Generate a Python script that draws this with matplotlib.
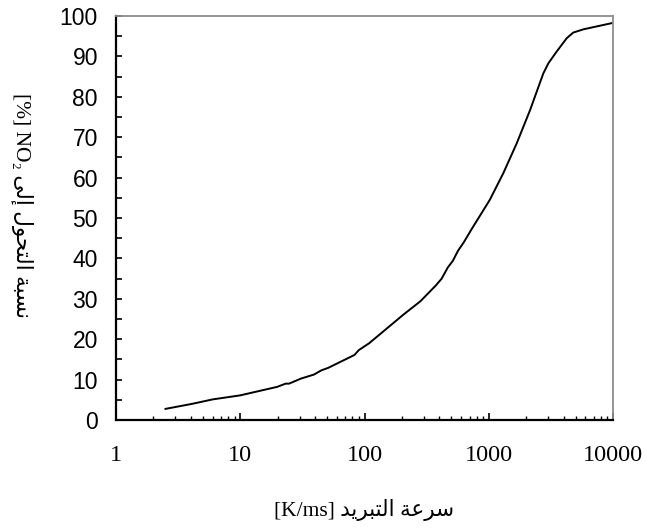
import matplotlib
matplotlib.use("Agg")
import matplotlib.pyplot as plt
from matplotlib.ticker import LogLocator, NullFormatter, MultipleLocator, FixedLocator, FixedFormatter

# ---- data ----
cooling_rate = [2.5, 4.1, 6.0, 10, 19.8, 23.2, 24.7, 30.8, 39.2, 45, 51, 83, 90, 109,
                206, 282, 375, 418, 468, 514, 566, 630, 720, 1020, 1310, 1680, 2150,
                2750, 3020, 3520, 4240, 4790, 5770, 10000]
conversion = [2.75, 4.0, 5.1, 6.1, 8.2, 9.0, 9.0, 10.25, 11.25, 12.3, 12.9, 16.1, 17.3, 19.0,
              26.1, 29.4, 33.3, 35.0, 37.75, 39.4, 41.9, 44.0, 47.0, 54.5, 61.1, 68.5, 76.7,
              85.8, 88.3, 91.2, 94.5, 95.9, 96.7, 98.3]
x_ticks = [1, 10, 100, 1000, 10000]
x_tick_labels = ["1", "10", "100", "1000", "10000"]
y_ticks = list(range(0, 101, 10))

xlabel_ar = "سرعة التبريد"
xlabel_latin = "[K/ms]"
ylabel_ar = "نسبة التحول إلى"
ylabel_latin = "[%] NO₂"

# ---- minimal Arabic shaping (presentation forms, visual order) ----
FORMS = {  # isolated, final, initial, medial
    'ا': ('\uFE8D', '\uFE8E', None, None),
    'إ': ('\uFE87', '\uFE88', None, None),
    'ب': ('\uFE8F', '\uFE90', '\uFE91', '\uFE92'),
    'ة': ('\uFE93', '\uFE94', None, None),
    'ت': ('\uFE95', '\uFE96', '\uFE97', '\uFE98'),
    'ح': ('\uFEA1', '\uFEA2', '\uFEA3', '\uFEA4'),
    'د': ('\uFEA9', '\uFEAA', None, None),
    'ر': ('\uFEAD', '\uFEAE', None, None),
    'س': ('\uFEB1', '\uFEB2', '\uFEB3', '\uFEB4'),
    'ع': ('\uFEC9', '\uFECA', '\uFECB', '\uFECC'),
    'ل': ('\uFEDD', '\uFEDE', '\uFEDF', '\uFEE0'),
    'ن': ('\uFEE5', '\uFEE6', '\uFEE7', '\uFEE8'),
    'و': ('\uFEED', '\uFEEE', None, None),
    'ى': ('\uFEEF', '\uFEF0', None, None),
    'ي': ('\uFEF1', '\uFEF2', '\uFEF3', '\uFEF4'),
}


def shape(text):
    out = []
    n = len(text)
    for i, ch in enumerate(text):
        if ch not in FORMS:
            out.append(ch)
            continue
        f = FORMS[ch]
        prev = text[i - 1] if i > 0 else None
        nxt = text[i + 1] if i < n - 1 else None
        joins_prev = prev in FORMS and FORMS[prev][2] is not None
        joins_next = nxt in FORMS and f[2] is not None
        if joins_prev and joins_next:
            out.append(f[3])
        elif joins_prev:
            out.append(f[1])
        elif joins_next:
            out.append(f[2])
        else:
            out.append(f[0])
    return ''.join(out)[::-1]


fig = plt.figure(figsize=(6.46, 5.28), dpi=100)
ax = fig.add_axes([116 / 646, 1 - 420 / 528, 497 / 646, 404 / 528])

ax.plot(cooling_rate, conversion, color='black', lw=1.4)

ax.set_xscale('log')
ax.set_xlim(1, 10000)
ax.set_ylim(0, 100)

ax.xaxis.set_major_locator(FixedLocator(x_ticks))
ax.xaxis.set_major_formatter(FixedFormatter(x_tick_labels))
ax.xaxis.set_minor_locator(LogLocator(base=10, subs=range(2, 10)))
ax.xaxis.set_minor_formatter(NullFormatter())
ax.yaxis.set_major_locator(FixedLocator(y_ticks))
ax.yaxis.set_minor_locator(MultipleLocator(5))

ax.tick_params(axis='both', which='both', direction='in', color='black')
ax.tick_params(axis='x', which='major', length=5, width=1.2, pad=18, labelsize=17.5)
ax.tick_params(axis='x', which='minor', length=3, width=1.0)
ax.tick_params(axis='y', which='major', length=4, width=1.2, pad=13, labelsize=16.5)
ax.tick_params(axis='y', which='minor', length=4, width=1.2)
for lab in ax.get_xticklabels():
    lab.set_family(['Liberation Serif', 'DejaVu Serif'])
for lab in ax.get_yticklabels():
    lab.set_family(['Liberation Sans', 'DejaVu Sans'])

for s in ('left', 'bottom'):
    ax.spines[s].set_color('black')
    ax.spines[s].set_linewidth(1.6)
for s in ('top', 'right'):
    ax.spines[s].set_color('#8c8c8c')
    ax.spines[s].set_linewidth(1.3)

fam = ['Liberation Serif', 'DejaVu Sans']
ax.set_xlabel(xlabel_latin + ' ' + shape(xlabel_ar), family=fam, fontsize=15.5)
ax.xaxis.set_label_coords(0.5, (420 - 510) / 404)
ax.xaxis.label.set_va('center')

ax.set_ylabel(ylabel_latin + ' ' + shape(ylabel_ar), family=fam, fontsize=15.5,
              rotation=-90, va='center', ha='center')
ax.yaxis.set_label_coords((22 - 116) / 497, 0.53)

fig.savefig('out.png', dpi=100)
